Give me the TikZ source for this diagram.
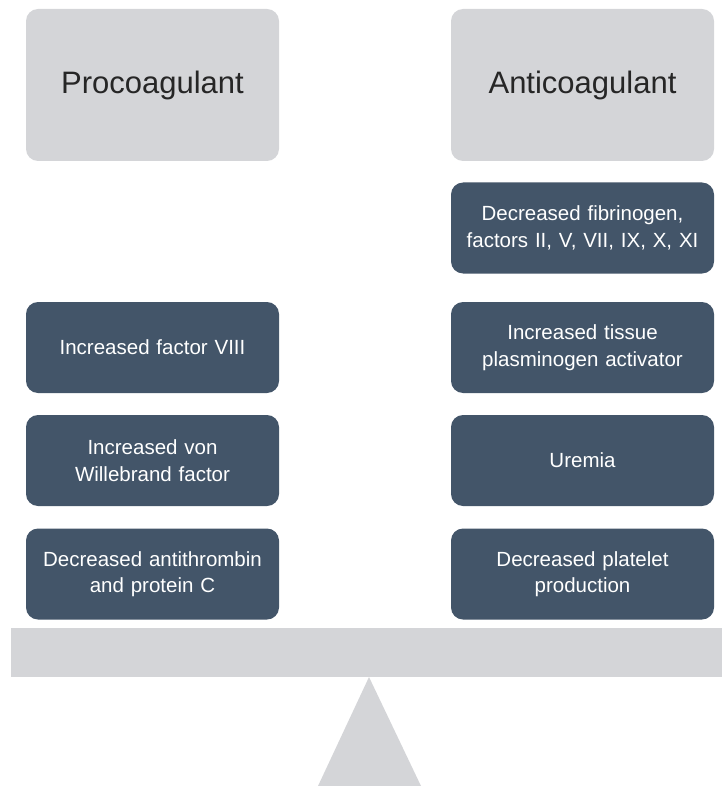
\documentclass[tikz,border=0pt]{standalone}
\usepackage{fontspec}
\setmainfont{Liberation Sans}
\usepackage{xcolor}
\usepackage{tikz}
\definecolor{panel}{HTML}{D4D5D8}
\definecolor{slate}{HTML}{435569}
\definecolor{ink}{HTML}{262626}
\tikzset{
  headbox/.style={fill=panel,rounded corners=12pt,minimum width=253pt,minimum height=152pt,
    text=ink,font=\fontsize{31}{36}\selectfont},
  factbox/.style={fill=slate,rounded corners=12pt,minimum width=253pt,minimum height=91pt,
    text=white,align=center,text width=245pt,font=\fontsize{20.5}{26.5}\selectfont},
  wide/.style={minimum width=263pt}
}
\begin{document}
\begin{tikzpicture}[x=1pt,y=-1pt]
  \useasboundingbox (0,0) rectangle (722,786);
  % headings
  \node[headbox] (pro) at (152.5,85) {Procoagulant};
  \node[headbox,wide] (anti) at (582.5,85) {Anticoagulant};
  % procoagulant side
  \node[factbox] (fviii) at (152.5,347.5) {Increased factor VIII};
  \node[factbox] (vwf) at (152.5,460.5) {Increased von\\Willebrand factor};
  \node[factbox] (atc) at (152.5,574) {Decreased antithrombin\\and protein C};
  % anticoagulant side
  \node[factbox,wide] (fib) at (582.5,228) {Decreased fibrinogen,\\factors II, V, VII, IX, X, XI};
  \node[factbox,wide] (tpa) at (582.5,347.5) {Increased tissue\\plasminogen activator};
  \node[factbox,wide] (urem) at (582.5,460.5) {Uremia};
  \node[factbox,wide] (plt) at (582.5,574) {Decreased platelet\\production};
  % balance beam and pivot
  \fill[panel] (11,628) rectangle (722,677);
  \fill[panel] (369,677) -- (421,786) -- (318,786) -- cycle;
\end{tikzpicture}
\end{document}
